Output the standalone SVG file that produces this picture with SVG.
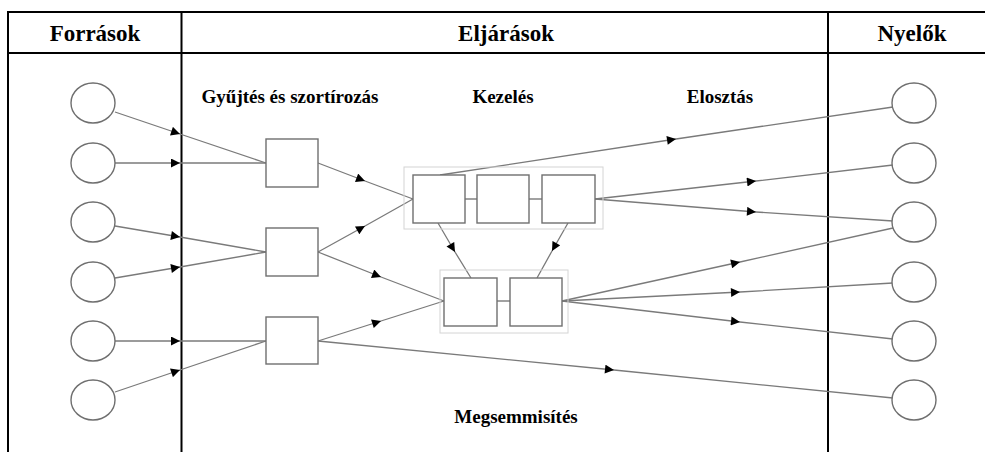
<svg xmlns="http://www.w3.org/2000/svg" width="985" height="452" viewBox="0 0 985 452">
<style>
.frame{stroke:#000;stroke-width:2;fill:none}
.hdr{font-family:"Liberation Serif",serif;font-weight:bold;font-size:23px;fill:#000;text-anchor:middle}
.lbl{font-family:"Liberation Serif",serif;font-weight:bold;font-size:19px;fill:#000;text-anchor:middle}
.node{fill:#fff;stroke:#6f6f6f;stroke-width:1.4}
.grp{fill:none;stroke:#d4d4d4;stroke-width:1}
.edge{fill:none;stroke:#7a7a7a;stroke-width:1.3;marker-mid:url(#ah)}
.link{fill:none;stroke:#6f6f6f;stroke-width:1.3}
</style>
<defs>
<marker id="ah" viewBox="0 0 10 10" refX="10" refY="5" markerWidth="10" markerHeight="9" markerUnits="userSpaceOnUse" orient="auto">
<path d="M0,0 L10,5 L0,10 Z" fill="#000"/>
</marker>
</defs>
<rect width="985" height="452" fill="#fff"/>
<g id="frame">
<line class="frame" x1="8" y1="12" x2="985" y2="12"/>
<line class="frame" x1="8" y1="53" x2="985" y2="53"/>
<line class="frame" x1="8" y1="11" x2="8" y2="452"/>
<line class="frame" x1="181.5" y1="12" x2="181.5" y2="452"/>
<line class="frame" x1="828" y1="12" x2="828" y2="452"/>
<text class="hdr" x="95" y="41">Források</text>
<text class="hdr" x="506" y="41">Eljárások</text>
<text class="hdr" x="912" y="41">Nyelők</text>
<text class="lbl" x="290" y="103">Gyűjtés és szortírozás</text>
<text class="lbl" x="503" y="103">Kezelés</text>
<text class="lbl" x="720" y="103">Elosztás</text>
<text class="lbl" x="516" y="423">Megsemmisítés</text>
</g>
<g id="connectors">
<path class="edge" d="M115,112 L180,134 L266,163"/>
<path class="edge" d="M115,163 L180,163 L266,163"/>
<path class="edge" d="M115,226 L180,237 L266,252"/>
<path class="edge" d="M115,278 L180,267 L266,252"/>
<path class="edge" d="M115,341 L180,341 L266,341"/>
<path class="edge" d="M115,392 L180,370 L266,341"/>
<path class="edge" d="M318,163 L365,181 L413,199"/>
<path class="edge" d="M318,252 L365,226 L413,199"/>
<path class="edge" d="M318,252 L381,277 L444,301"/>
<path class="edge" d="M318,341 L381,321 L444,301"/>
<path class="edge" d="M318,341 L614,370 L893,398"/>
<path class="edge" d="M438,223 L455,252 L471,278"/>
<path class="edge" d="M568,223 L552,251 L537,278"/>
<path class="edge" d="M440,175 L676,139 L893,107"/>
<path class="edge" d="M595,199 L756,181 L893,165"/>
<path class="edge" d="M595,199 L756,212 L893,221"/>
<path class="edge" d="M562,301 L740,262 L893,228"/>
<path class="edge" d="M562,301 L740,292 L893,283"/>
<path class="edge" d="M562,301 L740,322 L893,339"/>
<line class="link" x1="465" y1="199" x2="477" y2="199"/>
<line class="link" x1="529" y1="199" x2="542" y2="199"/>
<line class="link" x1="497" y1="301" x2="510" y2="301"/>
</g>
<g id="src1"><ellipse class="node" cx="93" cy="103" rx="22" ry="20"/></g>
<g id="src2"><ellipse class="node" cx="93" cy="163" rx="22" ry="20"/></g>
<g id="src3"><ellipse class="node" cx="93" cy="222" rx="22" ry="20"/></g>
<g id="src4"><ellipse class="node" cx="93" cy="282" rx="22" ry="20"/></g>
<g id="src5"><ellipse class="node" cx="93" cy="341" rx="22" ry="20"/></g>
<g id="src6"><ellipse class="node" cx="93" cy="400" rx="22" ry="20"/></g>
<g id="col1"><rect class="node" x="266" y="139" width="52" height="48"/></g>
<g id="col2"><rect class="node" x="266" y="228" width="52" height="48"/></g>
<g id="col3"><rect class="node" x="266" y="317" width="52" height="47"/></g>
<g id="treatTop">
<rect class="grp" x="404" y="167" width="199" height="62"/>
<rect class="node" x="413" y="175" width="52" height="48"/>
<rect class="node" x="477" y="175" width="52" height="48"/>
<rect class="node" x="542" y="175" width="53" height="48"/>
</g>
<g id="treatBottom">
<rect class="grp" x="440" y="270" width="128" height="63"/>
<rect class="node" x="444" y="278" width="53" height="48"/>
<rect class="node" x="510" y="278" width="52" height="48"/>
</g>
<g id="sink1"><ellipse class="node" cx="914" cy="103" rx="22" ry="20"/></g>
<g id="sink2"><ellipse class="node" cx="914" cy="163" rx="22" ry="20"/></g>
<g id="sink3"><ellipse class="node" cx="914" cy="222" rx="22" ry="20"/></g>
<g id="sink4"><ellipse class="node" cx="914" cy="282" rx="22" ry="20"/></g>
<g id="sink5"><ellipse class="node" cx="914" cy="341" rx="22" ry="20"/></g>
<g id="sink6"><ellipse class="node" cx="914" cy="400" rx="22" ry="20"/></g>
</svg>
